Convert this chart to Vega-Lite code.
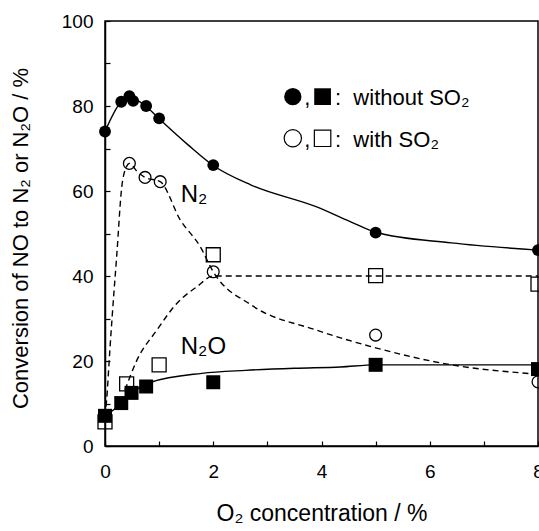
{
  "$schema": "https://vega.github.io/schema/vega-lite/v6.json",
  "width": 433,
  "height": 425,
  "autosize": "none",
  "padding": {"left": 105, "top": 21, "right": 1, "bottom": 85},
  "config": {
    "font": "Liberation Sans",
    "view": {"stroke": "black", "strokeWidth": 1.5},
    "axis": {
      "grid": false,
      "domainColor": "black",
      "domainWidth": 1.5,
      "tickColor": "black",
      "tickWidth": 1.2,
      "tickSize": -5,
      "labelColor": "black",
      "labelFontSize": 19,
      "labelFlush": false,
      "labelOverlap": false,
      "titleColor": "black",
      "titleFontWeight": "normal"
    }
  },
  "datasets": {
    "markers": [
      {"x": 0, "y": 74, "s": "fc"},
      {"x": 0.3, "y": 81, "s": "fc"},
      {"x": 0.45, "y": 82.3, "s": "fc"},
      {"x": 0.52, "y": 81.2, "s": "fc"},
      {"x": 0.76, "y": 80, "s": "fc"},
      {"x": 1, "y": 77.1, "s": "fc"},
      {"x": 2, "y": 66.1, "s": "fc"},
      {"x": 5, "y": 50.2, "s": "fc"},
      {"x": 8, "y": 46.1, "s": "fc"},
      {"x": 0, "y": 7.1, "s": "fs"},
      {"x": 0.3, "y": 10.1, "s": "fs"},
      {"x": 0.49, "y": 12.5, "s": "fs"},
      {"x": 0.76, "y": 14, "s": "fs"},
      {"x": 2, "y": 15, "s": "fs"},
      {"x": 5, "y": 19.1, "s": "fs"},
      {"x": 8, "y": 18.1, "s": "fs"},
      {"x": 0, "y": 5.7, "s": "os"},
      {"x": 0.4, "y": 14.6, "s": "os"},
      {"x": 1, "y": 19.1, "s": "os"},
      {"x": 2, "y": 45, "s": "os"},
      {"x": 5, "y": 40.1, "s": "os"},
      {"x": 8, "y": 38.1, "s": "os"},
      {"x": 0.45, "y": 66.5, "s": "oc"},
      {"x": 0.74, "y": 63.2, "s": "oc"},
      {"x": 1.02, "y": 62.2, "s": "oc"},
      {"x": 2, "y": 41, "s": "oc"},
      {"x": 5, "y": 26.1, "s": "oc"},
      {"x": 8, "y": 15.1, "s": "oc"}
    ],
    "curves": [
      {"x": 0, "y": 74, "c": "N2 without", "d": "solid"},
      {"x": 0.3, "y": 81, "c": "N2 without", "d": "solid"},
      {"x": 0.45, "y": 82, "c": "N2 without", "d": "solid"},
      {"x": 0.6, "y": 81.3, "c": "N2 without", "d": "solid"},
      {"x": 0.75, "y": 80, "c": "N2 without", "d": "solid"},
      {"x": 1, "y": 77, "c": "N2 without", "d": "solid"},
      {"x": 1.54, "y": 70.8, "c": "N2 without", "d": "solid"},
      {"x": 2, "y": 66, "c": "N2 without", "d": "solid"},
      {"x": 2.7, "y": 61.4, "c": "N2 without", "d": "solid"},
      {"x": 3.9, "y": 56.3, "c": "N2 without", "d": "solid"},
      {"x": 4.53, "y": 52.8, "c": "N2 without", "d": "solid"},
      {"x": 5, "y": 50.3, "c": "N2 without", "d": "solid"},
      {"x": 6.4, "y": 47.8, "c": "N2 without", "d": "solid"},
      {"x": 8, "y": 46.1, "c": "N2 without", "d": "solid"},
      {"x": 0, "y": 7, "c": "N2O without", "d": "solid"},
      {"x": 0.3, "y": 10, "c": "N2O without", "d": "solid"},
      {"x": 0.5, "y": 12.5, "c": "N2O without", "d": "solid"},
      {"x": 0.85, "y": 15, "c": "N2O without", "d": "solid"},
      {"x": 1.79, "y": 17.1, "c": "N2O without", "d": "solid"},
      {"x": 2.6, "y": 17.8, "c": "N2O without", "d": "solid"},
      {"x": 3.5, "y": 18.3, "c": "N2O without", "d": "solid"},
      {"x": 4.35, "y": 18.6, "c": "N2O without", "d": "solid"},
      {"x": 5, "y": 19.1, "c": "N2O without", "d": "solid"},
      {"x": 8, "y": 19.1, "c": "N2O without", "d": "solid"},
      {"x": 0, "y": 7, "c": "N2 with", "d": "dash"},
      {"x": 0.03, "y": 10.8, "c": "N2 with", "d": "dash"},
      {"x": 0.09, "y": 22.6, "c": "N2 with", "d": "dash"},
      {"x": 0.13, "y": 30, "c": "N2 with", "d": "dash"},
      {"x": 0.22, "y": 45.4, "c": "N2 with", "d": "dash"},
      {"x": 0.31, "y": 61, "c": "N2 with", "d": "dash"},
      {"x": 0.4, "y": 65.8, "c": "N2 with", "d": "dash"},
      {"x": 0.45, "y": 66.5, "c": "N2 with", "d": "dash"},
      {"x": 0.6, "y": 64.5, "c": "N2 with", "d": "dash"},
      {"x": 0.74, "y": 63.2, "c": "N2 with", "d": "dash"},
      {"x": 1.02, "y": 62.2, "c": "N2 with", "d": "dash"},
      {"x": 1.39, "y": 53.2, "c": "N2 with", "d": "dash"},
      {"x": 1.76, "y": 46.9, "c": "N2 with", "d": "dash"},
      {"x": 2, "y": 41, "c": "N2 with", "d": "dash"},
      {"x": 2.7, "y": 33.2, "c": "N2 with", "d": "dash"},
      {"x": 3.9, "y": 27.3, "c": "N2 with", "d": "dash"},
      {"x": 5, "y": 23.1, "c": "N2 with", "d": "dash"},
      {"x": 6.4, "y": 19.1, "c": "N2 with", "d": "dash"},
      {"x": 8, "y": 16.9, "c": "N2 with", "d": "dash"},
      {"x": 0.37, "y": 13.2, "c": "N2O with", "d": "dash"},
      {"x": 0.59, "y": 20.2, "c": "N2O with", "d": "dash"},
      {"x": 0.96, "y": 27.3, "c": "N2O with", "d": "dash"},
      {"x": 1.33, "y": 33.6, "c": "N2O with", "d": "dash"},
      {"x": 1.7, "y": 37.5, "c": "N2O with", "d": "dash"},
      {"x": 2, "y": 40, "c": "N2O with", "d": "dash"},
      {"x": 5, "y": 40, "c": "N2O with", "d": "dash"},
      {"x": 8, "y": 40, "c": "N2O with", "d": "dash"}
    ],
    "legend": [
      {"x": 3.47, "y": 82.2, "s": "fc"},
      {"x": 4.02, "y": 82.2, "s": "fs"},
      {"x": 3.47, "y": 72.4, "s": "oc"},
      {"x": 4.02, "y": 72.4, "s": "os"}
    ],
    "labels": [
      {"x": 1.4, "y": 57.4, "t": "N₂", "k": "big"},
      {"x": 1.4, "y": 21.6, "t": "N₂O", "k": "big"},
      {"x": 3.68, "y": 80.2, "t": ",", "k": "leg"},
      {"x": 4.25, "y": 80.2, "t": ":\u00a0\u00a0without SO₂", "k": "leg"},
      {"x": 3.68, "y": 70.4, "t": ",", "k": "leg"},
      {"x": 4.25, "y": 70.4, "t": ":\u00a0\u00a0with SO₂", "k": "leg"}
    ]
  },
  "encoding": {
    "x": {
      "field": "x", "type": "quantitative",
      "scale": {"domain": [0, 8], "nice": false},
      "axis": {
        "values": [0, 1, 2, 3, 4, 5, 6, 7, 8],
        "labelExpr": "datum.value % 2 === 0 ? datum.label : ''",
        "labelPadding": 21,
        "title": "O₂ concentration / %",
        "titleFontSize": 23,
        "titleBaseline": "alphabetic",
        "titleY": 74
      }
    },
    "y": {
      "field": "y", "type": "quantitative",
      "scale": {"domain": [0, 100], "nice": false},
      "axis": {
        "values": [0, 10, 20, 30, 40, 50, 60, 70, 80, 90, 100],
        "labelExpr": "datum.value % 20 === 0 ? datum.label : ''",
        "labelPadding": 17,
        "title": "Conversion of NO to N₂ or N₂O / %",
        "titleFontSize": 22,
        "titleX": -73,
        "titleY": 217
      }
    }
  },
  "layer": [
    {
      "data": {"name": "curves"},
      "transform": [{"filter": "datum.d === 'solid'"}],
      "mark": {"type": "line", "color": "black", "strokeWidth": 1.4, "interpolate": "monotone"},
      "encoding": {"detail": {"field": "c"}}
    },
    {
      "data": {"name": "curves"},
      "transform": [{"filter": "datum.d === 'dash'"}],
      "mark": {"type": "line", "color": "black", "strokeWidth": 1.4, "strokeDash": [6, 4], "interpolate": "monotone"},
      "encoding": {"detail": {"field": "c"}}
    },
    {
      "data": {"name": "markers"},
      "transform": [{"filter": "datum.s === 'os'"}],
      "mark": {"type": "point", "shape": "square", "filled": false, "stroke": "black", "strokeWidth": 1.3, "size": 196, "opacity": 1}
    },
    {
      "data": {"name": "markers"},
      "transform": [{"filter": "datum.s === 'oc'"}],
      "mark": {"type": "point", "shape": "circle", "filled": false, "stroke": "black", "strokeWidth": 1.3, "size": 140, "opacity": 1}
    },
    {
      "data": {"name": "markers"},
      "transform": [{"filter": "datum.s === 'fs'"}],
      "mark": {"type": "point", "shape": "square", "filled": true, "color": "black", "size": 196, "opacity": 1}
    },
    {
      "data": {"name": "markers"},
      "transform": [{"filter": "datum.s === 'fc'"}],
      "mark": {"type": "point", "shape": "circle", "filled": true, "color": "black", "size": 140, "opacity": 1}
    },
    {
      "data": {"name": "legend"},
      "transform": [{"filter": "datum.s === 'fc'"}],
      "mark": {"type": "point", "shape": "circle", "filled": true, "color": "black", "size": 300, "opacity": 1}
    },
    {
      "data": {"name": "legend"},
      "transform": [{"filter": "datum.s === 'fs'"}],
      "mark": {"type": "point", "shape": "square", "filled": true, "color": "black", "size": 280, "opacity": 1}
    },
    {
      "data": {"name": "legend"},
      "transform": [{"filter": "datum.s === 'oc'"}],
      "mark": {"type": "point", "shape": "circle", "filled": false, "stroke": "black", "strokeWidth": 1.2, "size": 300, "opacity": 1}
    },
    {
      "data": {"name": "legend"},
      "transform": [{"filter": "datum.s === 'os'"}],
      "mark": {"type": "point", "shape": "square", "filled": false, "stroke": "black", "strokeWidth": 1.2, "size": 270, "opacity": 1}
    },
    {
      "data": {"name": "labels"},
      "transform": [{"filter": "datum.k === 'big'"}],
      "mark": {"type": "text", "align": "left", "baseline": "alphabetic", "fontSize": 24, "color": "black"},
      "encoding": {"text": {"field": "t"}}
    },
    {
      "data": {"name": "labels"},
      "transform": [{"filter": "datum.k === 'leg'"}],
      "mark": {"type": "text", "align": "left", "baseline": "alphabetic", "fontSize": 22, "color": "black"},
      "encoding": {"text": {"field": "t"}}
    }
  ]
}
